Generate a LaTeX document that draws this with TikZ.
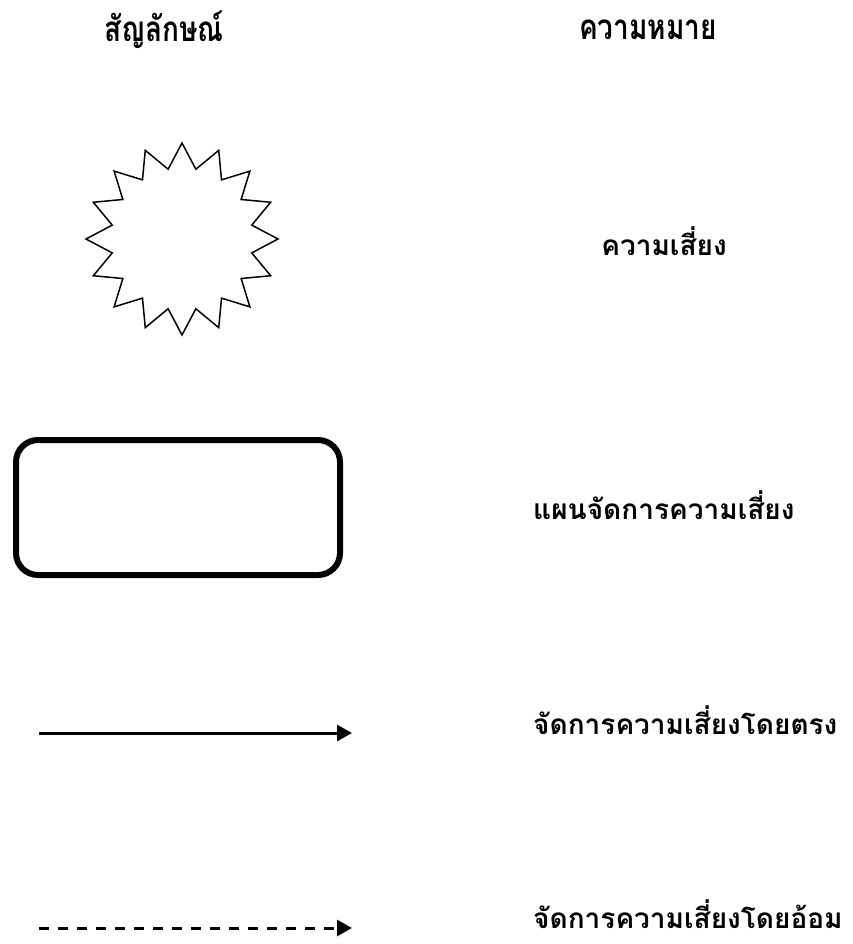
\documentclass[tikz,border=0pt]{standalone}
\usepackage{fontspec}
\newfontfamily\thaifont[Script=Thai]{Loma}
\newfontfamily\thainarrow[Script=Thai,FakeStretch=0.8]{Loma}
\usetikzlibrary{shapes.geometric,arrows.meta}
\tikzset{
  label text/.style={font=\thaifont\bfseries\fontsize{28}{33}\selectfont, inner sep=0pt},
  head text/.style={font=\thainarrow\bfseries\fontsize{35}{41}\selectfont, inner sep=0pt},
  legend arrow/.style={line width=3pt, -{Triangle[length=15pt,width=16pt]}}
}
\begin{document}
\begin{tikzpicture}[x=1pt,y=-1pt]
\useasboundingbox (0,0) rectangle (853,944);

\node[head text] (hsym) at (164,30) {สัญลักษณ์};
\node[head text] (hmean) at (648,30) {ความหมาย};

\node[draw, star, star points=16, star point ratio=1.35, minimum size=192pt, inner sep=0pt, line width=1.5pt] (risk) at (182,239) {};
\node[label text] (trisk) at (664,241) {ความเสี่ยง};

\node[draw, line width=6pt, rounded corners=22pt, minimum width=324pt, minimum height=135pt] (plan) at (178,507.5) {};
\node[label text, anchor=west] (tplan) at (533,505) {แผนจัดการความเสี่ยง};

\coordinate (d1) at (39,733);
\coordinate (d2) at (352,733);
\draw[legend arrow] (d1) -- (d2);
\node[label text, anchor=west] (tdirect) at (533,720) {จัดการความเสี่ยงโดยตรง};

\coordinate (i1) at (39,928);
\coordinate (i2) at (352,928);
\draw[legend arrow, dash pattern=on 10pt off 9pt] (i1) -- (i2);
\node[label text, anchor=west] (tindirect) at (533,914) {จัดการความเสี่ยงโดยอ้อม};

\end{tikzpicture}
\end{document}
